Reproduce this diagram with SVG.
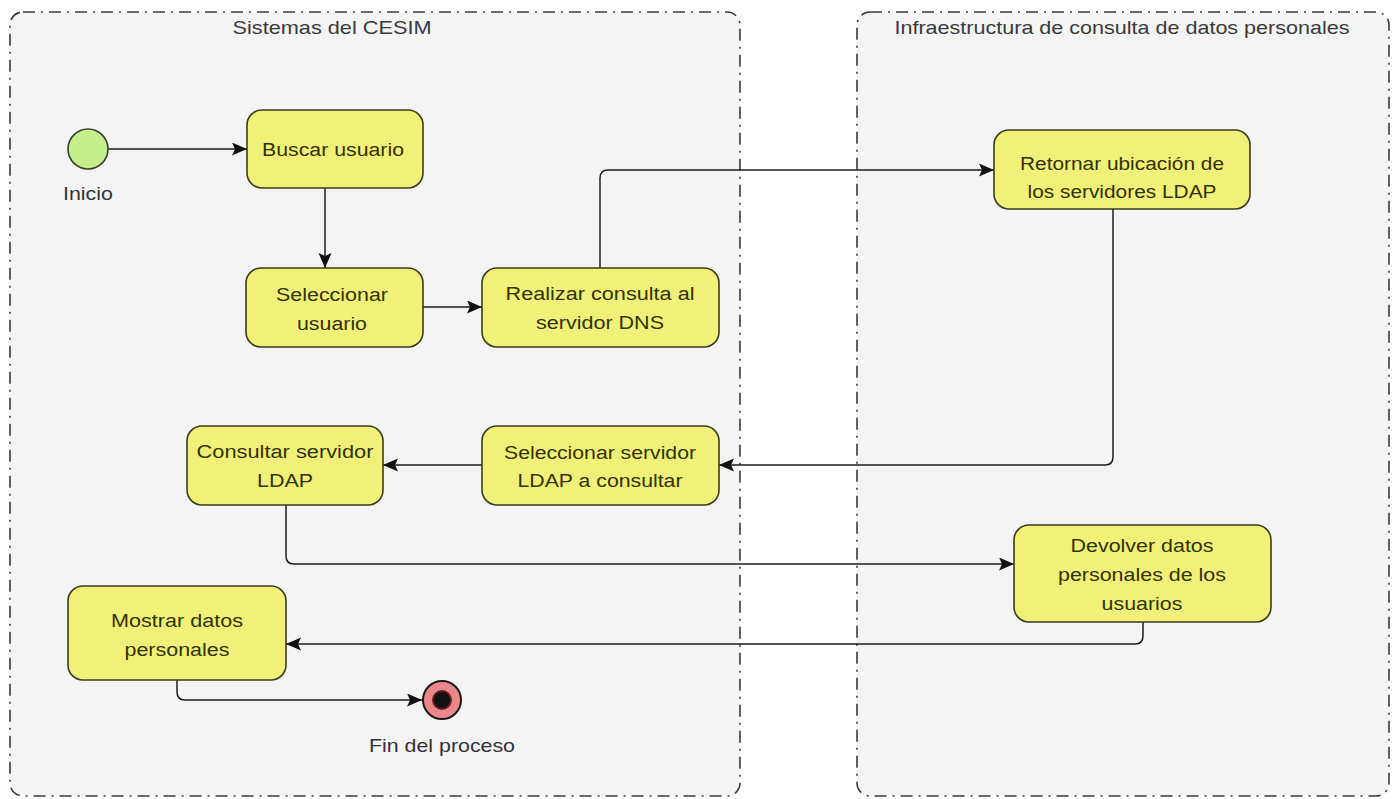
<svg xmlns="http://www.w3.org/2000/svg" width="1393" height="799" viewBox="0 0 1393 799">
<style>
.pool{fill:#f4f4f4;stroke:#3a3a3a;stroke-width:1.6;stroke-dasharray:12 6 2 6;}
.title{font-family:"Liberation Sans",Arial,sans-serif;font-size:19px;fill:#3a3a3a;text-anchor:middle;}
.act{fill:#f1f17a;stroke:#3b3b1e;stroke-width:1.6;}
.t{font-family:"Liberation Sans",Arial,sans-serif;font-size:18px;fill:#333300;text-anchor:middle;}
.lbl{font-family:"Liberation Sans",Arial,sans-serif;font-size:19px;fill:#333333;text-anchor:middle;}
.con{fill:none;stroke:#1e1e1e;stroke-width:1.5;marker-end:url(#arr);}
</style>
<defs>
<marker id="arr" markerUnits="userSpaceOnUse" markerWidth="16" markerHeight="14" refX="15" refY="6.5" orient="auto">
<path d="M0,0 L15,6.5 L0,13 L3,6.5 Z" fill="#111"/>
</marker>
</defs>
<rect width="1393" height="799" fill="#ffffff"/>
<g id="pool-cesim">
<rect class="pool" x="10" y="12" width="730" height="784" rx="13"/>
<text class="title" x="332" y="34" textLength="199" lengthAdjust="spacingAndGlyphs">Sistemas del CESIM</text>
</g>
<g id="pool-infra">
<rect class="pool" x="857" y="12" width="532" height="784" rx="13"/>
<text class="title" x="1122" y="34" textLength="455" lengthAdjust="spacingAndGlyphs">Infraestructura de consulta de datos personales</text>
</g>
<g id="connectors">
<path class="con" d="M108,149 L247,149"/>
<path class="con" d="M325,188 L325,268"/>
<path class="con" d="M423,307 L482,307"/>
<path class="con" d="M600,268 L600,178 Q600,170 608,170 L994,170"/>
<path class="con" d="M1113,209 L1113,457 Q1113,465 1105,465 L719,465"/>
<path class="con" d="M482,465 L383,465"/>
<path class="con" d="M286,505 L286,556 Q286,564 294,564 L1014,564"/>
<path class="con" d="M1143,622 L1143,636 Q1143,644 1135,644 L286,644"/>
<path class="con" d="M177,680 L177,692 Q177,700 185,700 L422,700"/>
</g>
<g id="inicio">
<circle cx="88" cy="149" r="20" fill="#c5ef8d" stroke="#34402a" stroke-width="1.6"/>
<text class="lbl" x="88" y="200" textLength="50" lengthAdjust="spacingAndGlyphs">Inicio</text>
</g>
<g id="buscar-usuario">
<rect class="act" x="247" y="110" width="176" height="78" rx="15"/>
<text class="t" x="333" y="156" textLength="142" lengthAdjust="spacingAndGlyphs">Buscar usuario</text>
</g>
<g id="seleccionar-usuario">
<rect class="act" x="246" y="268" width="177" height="79" rx="15"/>
<text class="t" x="332" y="301" textLength="112" lengthAdjust="spacingAndGlyphs">Seleccionar</text>
<text class="t" x="332" y="330" textLength="70" lengthAdjust="spacingAndGlyphs">usuario</text>
</g>
<g id="realizar-consulta">
<rect class="act" x="482" y="268" width="237" height="79" rx="15"/>
<text class="t" x="600" y="300" textLength="189" lengthAdjust="spacingAndGlyphs">Realizar consulta al</text>
<text class="t" x="600" y="329" textLength="128" lengthAdjust="spacingAndGlyphs">servidor DNS</text>
</g>
<g id="retornar-ubicacion">
<rect class="act" x="994" y="130" width="256" height="79" rx="15"/>
<text class="t" x="1122" y="170" textLength="204" lengthAdjust="spacingAndGlyphs">Retornar ubicación de</text>
<text class="t" x="1122" y="198" textLength="189" lengthAdjust="spacingAndGlyphs">los servidores LDAP</text>
</g>
<g id="seleccionar-servidor">
<rect class="act" x="482" y="426" width="237" height="79" rx="15"/>
<text class="t" x="600" y="459" textLength="192" lengthAdjust="spacingAndGlyphs">Seleccionar servidor</text>
<text class="t" x="600" y="487" textLength="165" lengthAdjust="spacingAndGlyphs">LDAP a consultar</text>
</g>
<g id="consultar-servidor">
<rect class="act" x="187" y="426" width="196" height="79" rx="15"/>
<text class="t" x="285" y="458" textLength="177" lengthAdjust="spacingAndGlyphs">Consultar servidor</text>
<text class="t" x="285" y="487" textLength="56" lengthAdjust="spacingAndGlyphs">LDAP</text>
</g>
<g id="devolver-datos">
<rect class="act" x="1014" y="525" width="257" height="97" rx="15"/>
<text class="t" x="1142" y="552" textLength="143" lengthAdjust="spacingAndGlyphs">Devolver datos</text>
<text class="t" x="1142" y="581" textLength="168" lengthAdjust="spacingAndGlyphs">personales de los</text>
<text class="t" x="1142" y="610" textLength="81" lengthAdjust="spacingAndGlyphs">usuarios</text>
</g>
<g id="mostrar-datos">
<rect class="act" x="68" y="586" width="218" height="94" rx="15"/>
<text class="t" x="177" y="627" textLength="132" lengthAdjust="spacingAndGlyphs">Mostrar datos</text>
<text class="t" x="177" y="656" textLength="105" lengthAdjust="spacingAndGlyphs">personales</text>
</g>
<g id="fin">
<circle cx="442" cy="700" r="19" fill="#ea878b" stroke="#1a1a1a" stroke-width="2"/>
<circle cx="442" cy="700" r="9" fill="#111111" stroke="#6a1c1c" stroke-width="2"/>
<text class="lbl" x="442" y="752" textLength="146" lengthAdjust="spacingAndGlyphs">Fin del proceso</text>
</g>
</svg>
